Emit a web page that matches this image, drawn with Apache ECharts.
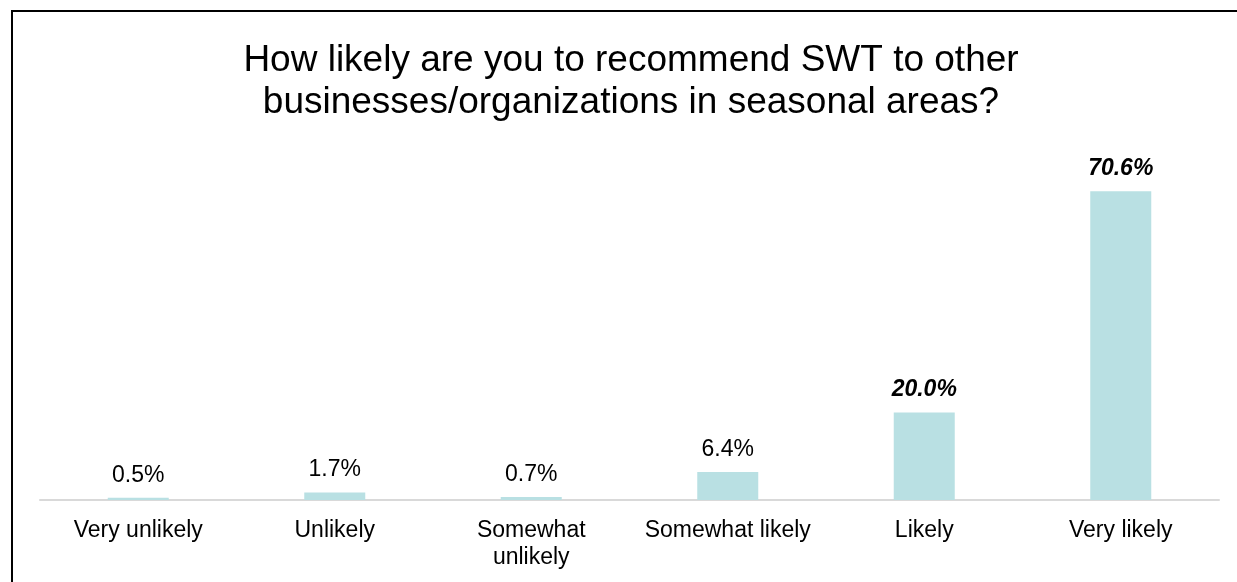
<!DOCTYPE html>
<html>
<head>
<meta charset="utf-8">
<script src="https://cdn.jsdelivr.net/npm/echarts@6/dist/echarts.min.js"></script>
<style>
  html, body { margin: 0; padding: 0; background: #ffffff; }
  #chart { width: 1237px; height: 582px; }
</style>
</head>
<body>
<div id="chart"></div>
<script>
// Survey responses: likelihood of recommending SWT
const titleLines = [
  'How likely are you to recommend SWT to other',
  'businesses/organizations in seasonal areas?'
];
const categories = ['Very unlikely', 'Unlikely', 'Somewhat\nunlikely', 'Somewhat likely', 'Likely', 'Very likely'];
const shares = [0.5, 1.7, 0.7, 6.4, 20.0, 70.6];
// Responses whose value label is emphasised
const emphasised = [false, false, false, false, true, true];

const FONT = '"Liberation Sans", Arial, Helvetica, sans-serif';
const chart = echarts.init(document.getElementById('chart'));

chart.setOption({
  animation: false,
  backgroundColor: '#ffffff',
  title: {
    text: titleLines.join('\n'),
    left: 626,
    textAlign: 'center',
    top: 35,
    textStyle: {
      fontFamily: FONT,
      fontSize: 37,
      fontWeight: 'normal',
      color: '#000000',
      lineHeight: 42
    }
  },
  graphic: [{
    type: 'rect',
    shape: { x: 12, y: 11, width: 1260, height: 620 },
    style: { fill: 'none', stroke: '#000000', lineWidth: 2 },
    silent: true
  }],
  grid: { left: 40, right: 18, top: 150, bottom: 82, containLabel: false },
  xAxis: {
    type: 'category',
    data: categories,
    axisLine: { lineStyle: { color: '#d9d9d9', width: 2 } },
    axisTick: { show: false },
    axisLabel: {
      interval: 0,
      margin: 17,
      fontFamily: FONT,
      fontSize: 23,
      lineHeight: 27,
      color: '#000000'
    }
  },
  yAxis: {
    type: 'value',
    min: 0,
    max: 80,
    show: false,
    splitLine: { show: false }
  },
  series: [{
    type: 'bar',
    barWidth: 61,
    data: shares.map((v, i) => ({
      value: v,
      label: emphasised[i] ? { fontWeight: 'bold', fontStyle: 'italic' } : {}
    })),
    itemStyle: { color: '#b9e0e3' },
    label: {
      show: true,
      position: 'top',
      distance: 11,
      fontFamily: FONT,
      fontSize: 23,
      color: '#000000',
      formatter: p => p.value.toFixed(1) + '%'
    }
  }]
});
</script>
</body>
</html>
